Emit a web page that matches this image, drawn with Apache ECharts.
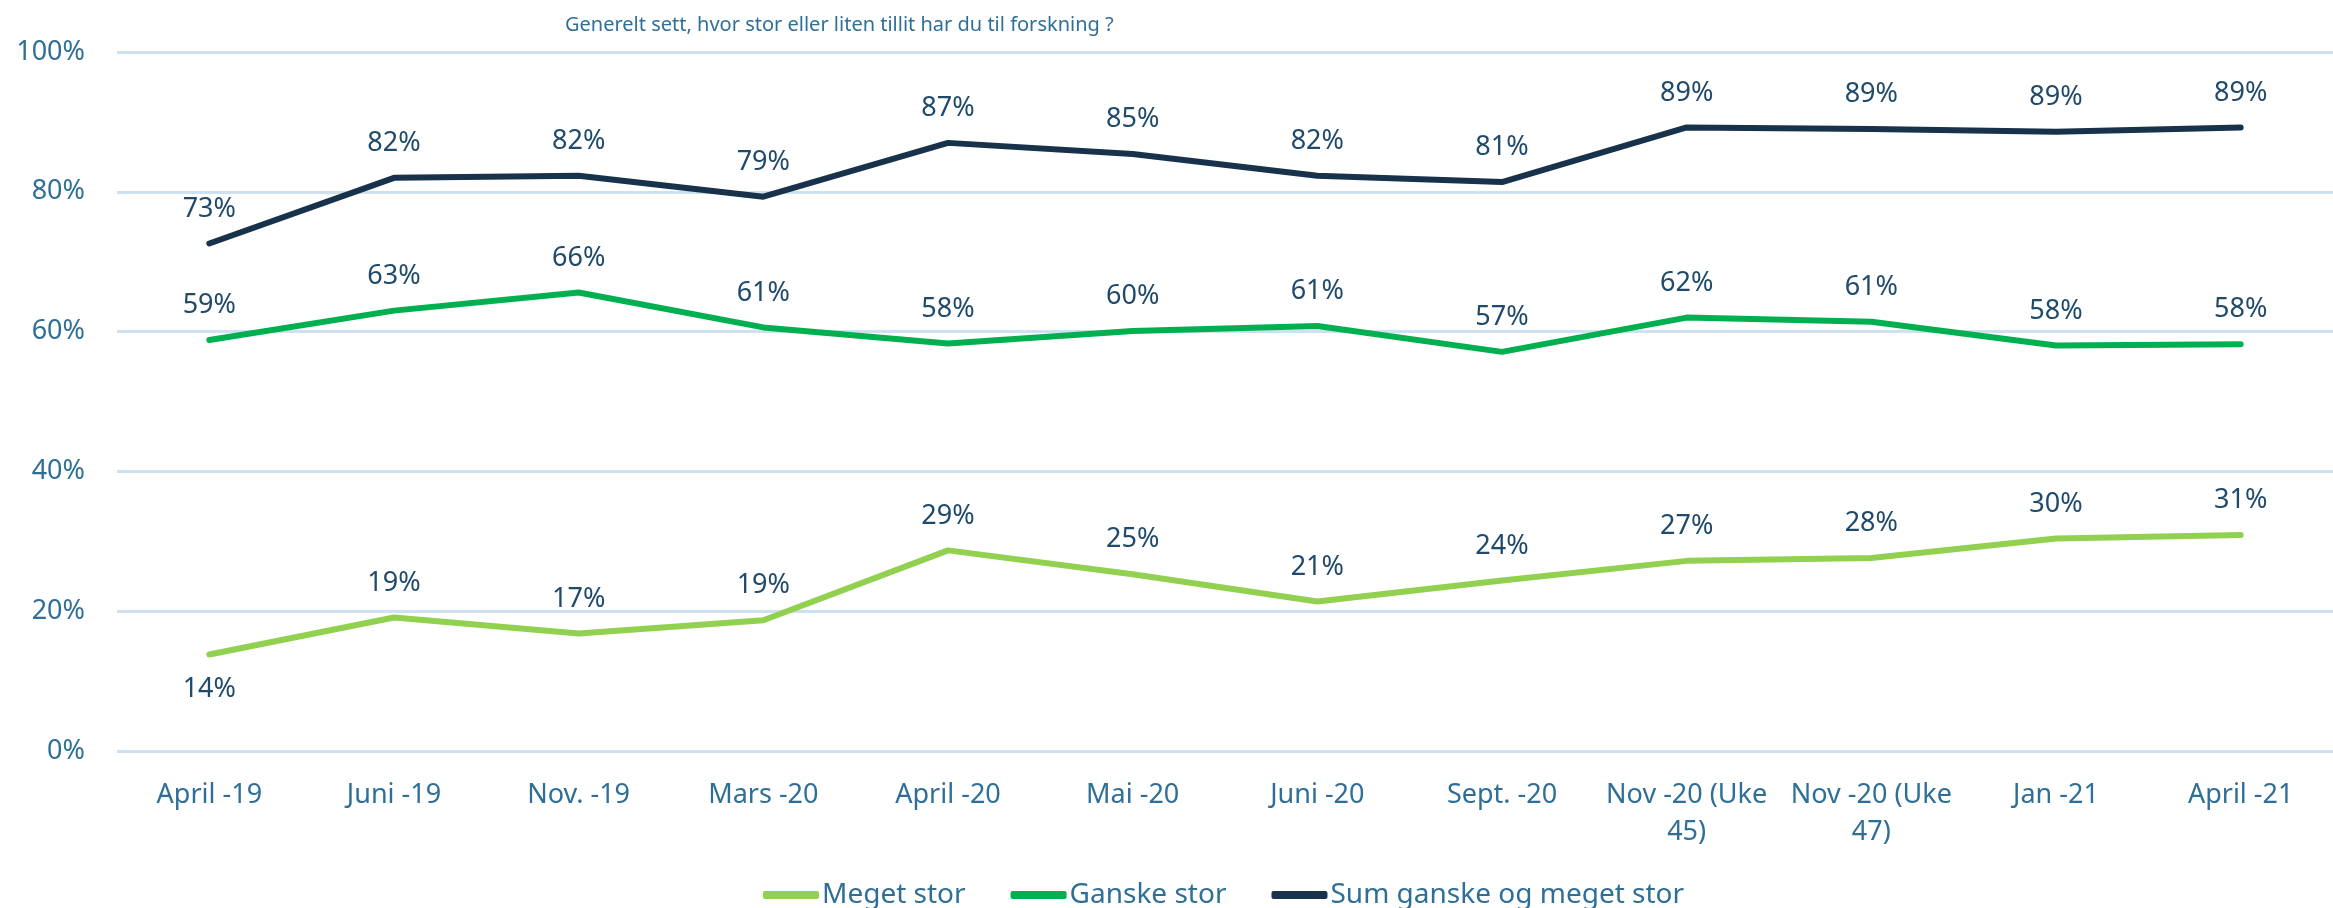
<!DOCTYPE html>
<html>
<head>
<meta charset="utf-8">
<script src="https://cdn.jsdelivr.net/npm/echarts@6/dist/echarts.min.js"></script>
<style>
  html, body { margin: 0; padding: 0; background: #fff; }
  #main { width: 2333px; height: 908px; }
</style>
</head>
<body>
<div id="main"></div>
<script>
const categories = ['April -19', 'Juni -19', 'Nov. -19', 'Mars -20', 'April -20', 'Mai -20',
  'Juni -20', 'Sept. -20', 'Nov -20 (Uke 45)', 'Nov -20 (Uke 47)', 'Jan -21', 'April -21'];
const megetStor = [13.8, 19.1, 16.8, 18.7, 28.7, 25.3, 21.4, 24.4, 27.2, 27.6, 30.4, 30.9];
const ganskeStor = [58.8, 63.0, 65.6, 60.6, 58.3, 60.1, 60.8, 57.1, 62.0, 61.4, 58.0, 58.2];
const sumStor = [72.6, 82.0, 82.3, 79.3, 87.0, 85.4, 82.3, 81.4, 89.2, 89.0, 88.6, 89.2];
const yTicks = [0, 20, 40, 60, 80, 100];

const FONT = "'Noto Sans', sans-serif";
const axisColor = '#2f6f97';
const labelColor = '#1f4a6b';

const chart = echarts.init(document.getElementById('main'));

function lineSeries(name, data, color, below) {
  return {
    name: name,
    type: 'line',
    data: data.map((v, i) => below && below.indexOf(i) >= 0
      ? { value: v, label: { position: 'bottom' } }
      : v),
    symbol: 'circle',
    symbolSize: 2,
    itemStyle: { color: color },
    lineStyle: { color: color, width: 6, cap: 'round', join: 'round' },
    label: {
      show: true,
      position: 'top',
      distance: 20,
      color: labelColor,
      fontFamily: FONT,
      fontSize: 27,
      formatter: p => Math.round(p.value) + '%'
    },
    animation: false
  };
}

const option = {
  animation: false,
  backgroundColor: '#fff',
  title: {
    text: 'Generelt sett, hvor stor eller liten tillit har du til forskning ?',
    left: 560,
    top: 10,
    textStyle: { color: axisColor, fontFamily: FONT, fontSize: 20, fontWeight: 'normal' }
  },
  legend: {
    left: 758,
    top: 876,
    icon: 'roundRect',
    itemWidth: 56,
    itemHeight: 8,
    itemGap: 45,
    textStyle: { color: axisColor, fontFamily: FONT, fontSize: 28, padding: [0, 0, 0, -2] },
    data: ['Meget stor', 'Ganske stor', 'Sum ganske og meget stor']
  },
  grid: { left: 117, right: -19, top: 52, bottom: 157, containLabel: false },
  xAxis: {
    type: 'category',
    data: categories,
    boundaryGap: true,
    axisLine: { show: false },
    axisTick: { show: false },
    axisLabel: {
      color: axisColor,
      fontFamily: FONT,
      fontSize: 27,
      margin: 26,
      lineHeight: 37,
      interval: 0,
      formatter: v => v.replace(' (Uke ', ' (Uke\n')
    }
  },
  yAxis: {
    type: 'value',
    min: yTicks[0],
    max: yTicks[yTicks.length - 1],
    interval: 20,
    axisLine: { show: false },
    axisTick: { show: false },
    splitLine: { lineStyle: { color: '#cde1f0', width: 3 } },
    axisLabel: {
      color: axisColor,
      fontFamily: FONT,
      fontSize: 27,
      margin: 32,
      formatter: '{value}%'
    }
  },
  series: [
    lineSeries('Meget stor', megetStor, '#92d050', [0]),
    lineSeries('Ganske stor', ganskeStor, '#00b050'),
    lineSeries('Sum ganske og meget stor', sumStor, '#17324a')
  ]
};

chart.setOption(option);
</script>
</body>
</html>
